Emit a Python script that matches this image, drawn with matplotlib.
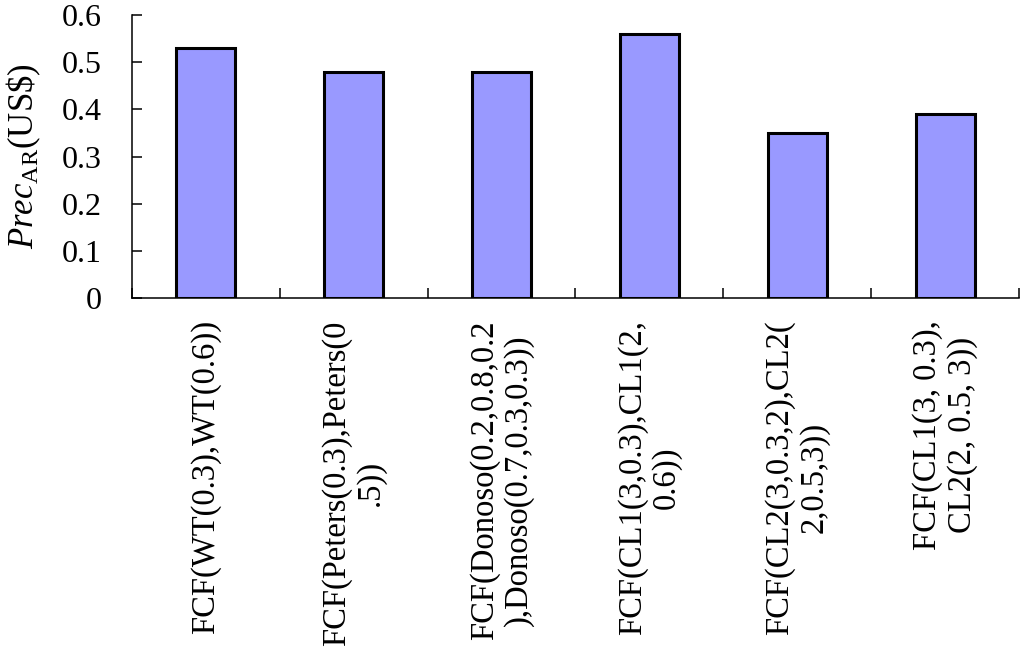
import matplotlib
matplotlib.use("Agg")
import matplotlib.pyplot as plt
import numpy as np

categories = [
    "FCF(WT(0.3),WT(0.6))",
    "FCF(Peters(0.3),Peters(0\n.5))",
    "FCF(Donoso(0.2,0.8,0.2\n),Donoso(0.7,0.3,0.3))",
    "FCF(CL1(3,0.3),CL1(2,\n0.6))",
    "FCF(CL2(3,0.3,2),CL2(\n2,0.5,3))",
    "FCF(CL1(3, 0.3),\nCL2(2, 0.5, 3))",
]
values = [0.53, 0.48, 0.48, 0.56, 0.35, 0.39]
yticks = [0, 0.1, 0.2, 0.3, 0.4, 0.5, 0.6]
ytick_labels = ["0", "0.1", "0.2", "0.3", "0.4", "0.5", "0.6"]

plt.rcParams['font.family'] = ['Liberation Serif', 'DejaVu Serif']
plt.rcParams['mathtext.fontset'] = 'custom'
plt.rcParams['mathtext.rm'] = 'Liberation Serif'
plt.rcParams['mathtext.it'] = 'Liberation Serif:italic'

fig = plt.figure(figsize=(10.24, 6.55), dpi=100)
ax = fig.add_axes([132/1024, 1 - 298/655, (1019 - 132)/1024, (298 - 15)/655])

x = np.arange(len(categories))
ax.bar(x, values, width=0.4, color='#9999FF', edgecolor='black', linewidth=2.2, zorder=3)

ax.set_xlim(-0.5, len(categories) - 0.5)
ax.set_ylim(0, 0.6)
ax.set_yticks(yticks)
ax.set_yticklabels(ytick_labels, fontsize=23)
ax.set_xticks(x)
ax.set_xticklabels(categories, rotation=90, fontsize=23.5, multialignment='center',
                   linespacing=1.15)
ax.set_xticks(np.arange(len(categories) + 1) - 0.5, minor=True)

ax.tick_params(axis='y', direction='in', length=7, width=1.1, pad=22)
ax.tick_params(axis='x', which='major', length=0, pad=16)
ax.tick_params(axis='x', which='minor', direction='in', length=7, width=1.1)

for s in ['top', 'right']:
    ax.spines[s].set_visible(False)
for s in ['left', 'bottom']:
    ax.spines[s].set_linewidth(1.1)

ax.set_ylabel(r'$\mathit{Prec}_{\mathrm{AR}}$(US\$)', fontsize=25, labelpad=13)

fig.savefig('out.png', dpi=100)
